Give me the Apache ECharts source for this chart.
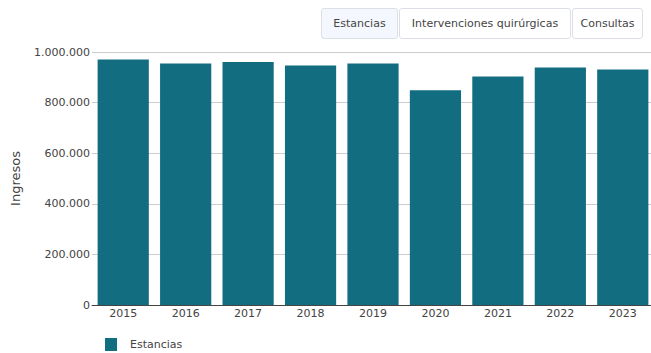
<!DOCTYPE html>
<html>
<head>
<meta charset="utf-8">
<script src="https://cdn.jsdelivr.net/npm/echarts@6/dist/echarts.min.js"></script>
<style>
  html, body { margin: 0; padding: 0; background: #fff; }
  #wrap { position: relative; width: 651px; height: 353px; overflow: hidden; }
  #chart { position: absolute; left: 0; top: 0; width: 651px; height: 353px; }
  .btns { position: absolute; top: 8px; left: 321px; height: 31px; font-family: "DejaVu Sans", Verdana, sans-serif; font-size: 11px; color: #444; }
  .btn { position: absolute; top: 0; height: 29px; line-height: 29px; text-align: center; border: 1px solid #dcdfe6; border-radius: 3px; background: #fff; box-sizing: content-box; }
  .btn.active { background: #f4f7fd; }
</style>
</head>
<body>
<div id="wrap">
  <div id="chart"></div>
  <div class="btns">
    <div class="btn active" style="left:0; width:75px;">Estancias</div>
    <div class="btn" style="left:78px; width:170px;">Intervenciones quirúrgicas</div>
    <div class="btn" style="left:251px; width:69px;">Consultas</div>
  </div>
</div>
<script>
// Hospital admissions (stays) per year
const years = ['2015', '2016', '2017', '2018', '2019', '2020', '2021', '2022', '2023'];
const estancias = [970000, 955000, 960000, 947000, 955000, 849000, 903000, 939000, 931000];
const yTicks = [0, 200000, 400000, 600000, 800000, 1000000];

function fmtMiles(v) {
  return String(Math.round(v)).replace(/\B(?=(\d{3})+(?!\d))/g, '.');
}

const chart = echarts.init(document.getElementById('chart'), null, { renderer: 'svg' });
chart.setOption({
  animation: false,
  textStyle: { fontFamily: '"DejaVu Sans", Verdana, sans-serif' },
  grid: { left: 92, right: -3, top: 52, bottom: 48, containLabel: false, outerBoundsMode: 'none' },
  legend: {
    left: 105, top: 338,
    padding: 0,
    itemWidth: 12, itemHeight: 13,
    icon: 'rect',
    textStyle: { color: '#444', fontSize: 11, padding: [0, 0, 0, 8] },
    data: ['Estancias']
  },
  xAxis: {
    type: 'category',
    data: years,
    axisLine: { show: true, lineStyle: { color: '#444', width: 1 } },
    axisTick: { show: false },
    axisLabel: { color: '#444', fontSize: 11, margin: 3 }
  },
  yAxis: {
    type: 'value',
    min: yTicks[0],
    max: yTicks[yTicks.length - 1],
    interval: yTicks[1] - yTicks[0],
    name: 'Ingresos',
    nameLocation: 'middle',
    nameGap: 70,
    nameTextStyle: { color: '#444', fontSize: 13 },
    axisLine: { show: false },
    axisTick: { show: false },
    splitLine: { show: true, lineStyle: { color: '#cccccc', width: 1 } },
    axisLabel: { color: '#444', fontSize: 11, margin: 2, formatter: fmtMiles }
  },
  series: [{
    name: 'Estancias',
    type: 'bar',
    data: estancias,
    barCategoryGap: '18%',
    itemStyle: { color: '#136d81' }
  }]
});
</script>
</body>
</html>
